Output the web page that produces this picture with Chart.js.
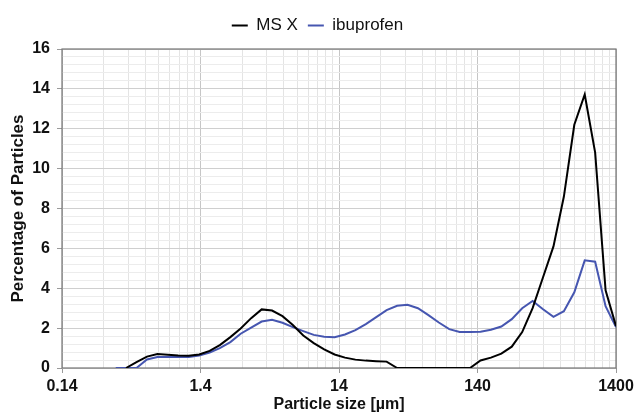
<!DOCTYPE html>
<html>
<head>
<meta charset="utf-8">
<script src="https://cdn.jsdelivr.net/npm/chart.js@4.4.0/dist/chart.umd.min.js"></script>
<style>
  html, body { margin: 0; padding: 0; background: #fff; }
</style>
</head>
<body>
<canvas id="myChart" width="635" height="415"></canvas>
<script>
// particle sizes in µm (log spaced)
const sizes = [
  0.342, 0.406, 0.483, 0.575, 0.684, 0.813, 0.967, 1.15, 1.37, 1.63,
  1.93, 2.3, 2.73, 3.25, 3.87, 4.6, 5.47, 6.5, 7.73, 9.2,
  10.94, 13.01, 15.47, 18.39, 21.875, 26.0, 30.9, 36.8, 43.75, 52.0,
  61.9, 73.6, 87.5, 104.1, 123.7, 147.2, 175, 208.1, 247.5, 294.3,
  350, 416.2, 495, 588.6, 700, 832.4, 990, 1177.2, 1400,
];

const msX = [
  null, 0, 0.3, 0.57, 0.7, 0.67, 0.63, 0.61, 0.68, 0.86,
  1.15, 1.55, 1.98, 2.5, 2.94, 2.88, 2.6, 2.16, 1.63, 1.25,
  0.93, 0.68, 0.52, 0.42, 0.37, 0.34, 0.32, 0, 0, 0,
  0, 0, 0, 0, 0, 0.38, 0.52, 0.72, 1.07, 1.8,
  3.0, 4.55, 6.1, 8.6, 12.2, 13.72, 10.8, 3.9, 2.1,
];

const ibuprofen = [
  0, 0, 0, 0.43, 0.55, 0.55, 0.55, 0.55, 0.62, 0.78,
  1.0, 1.3, 1.72, 2.03, 2.33, 2.42, 2.27, 2.05, 1.85, 1.66,
  1.57, 1.54, 1.68, 1.9, 2.2, 2.55, 2.9, 3.12, 3.17, 3.0,
  2.65, 2.28, 1.95, 1.81, 1.8, 1.82, 1.92, 2.08, 2.45, 3.0,
  3.36, 2.95, 2.57, 2.85, 3.8, 5.4, 5.33, 3.1, 2.05,
];

const xTickLabels = [0.14, 1.4, 14, 140, 1400];
const yTickLabels = [0, 2, 4, 6, 8, 10, 12, 14, 16];
const yMinorStep = 0.4;

const FONT = "'Liberation Sans', Arial, sans-serif";

function isMajor(value, majors) {
  return majors.some((m) => Math.abs(value - m) < m * 1e-6 + 1e-9);
}

function toPoints(values) {
  return values.map((v, i) => ({ x: sizes[i], y: v }));
}

function buildXTicks(axis) {
  const ticks = [];
  for (let i = 0; i < xTickLabels.length - 1; i++) {
    for (let m = 1; m < 10; m++) {
      ticks.push({ value: xTickLabels[i] * m });
    }
  }
  ticks.push({ value: xTickLabels[xTickLabels.length - 1] });
  axis.ticks = ticks;
}

function buildYTicks(axis) {
  const top = yTickLabels[yTickLabels.length - 1];
  const count = Math.round(top / yMinorStep);
  const ticks = [];
  for (let k = 0; k <= count; k++) {
    ticks.push({ value: k * yMinorStep });
  }
  axis.ticks = ticks;
}

// extra room under the legend
const legendSpacer = {
  id: "legendSpacer",
  beforeInit(chart) {
    const originalFit = chart.legend.fit;
    chart.legend.fit = function fit() {
      originalFit.bind(chart.legend)();
      this.height += 5;
    };
  },
};

// grey box round the plot area
const plotFrame = {
  id: "plotFrame",
  beforeDatasetsDraw(chart) {
    const { ctx, chartArea } = chart;
    ctx.save();
    ctx.strokeStyle = "#767676";
    ctx.lineWidth = 1.2;
    ctx.strokeRect(chartArea.left, chartArea.top, chartArea.right - chartArea.left, chartArea.bottom - chartArea.top);
    ctx.restore();
  },
};

new Chart(document.getElementById("myChart"), {
  type: "line",
  data: {
    datasets: [
      {
        label: "MS X",
        data: toPoints(msX),
        borderColor: "#000000",
        backgroundColor: "#000000",
        borderWidth: 2,
        pointRadius: 0,
        tension: 0,
      },
      {
        label: "ibuprofen",
        data: toPoints(ibuprofen),
        borderColor: "#4656b0",
        backgroundColor: "#4656b0",
        borderWidth: 2,
        pointRadius: 0,
        tension: 0,
      },
    ],
  },
  options: {
    responsive: false,
    animation: false,
    layout: { padding: { top: 7, right: 0, left: 0, bottom: 0 } },
    plugins: {
      legend: {
        position: "top",
        labels: {
          usePointStyle: true,
          pointStyle: "line",
          pointStyleWidth: 16,
          color: "#111",
          padding: 10,
          font: { family: FONT, size: 17 },
        },
      },
      tooltip: { enabled: false },
    },
    scales: {
      x: {
        type: "logarithmic",
        min: xTickLabels[0],
        max: xTickLabels[xTickLabels.length - 1],
        afterBuildTicks: buildXTicks,
        afterFit(scale) {
          scale.height = 47;
          scale.paddingRight = 19;
        },
        border: { display: false },
        grid: {
          color: (ctx) => (ctx.tick && isMajor(ctx.tick.value, xTickLabels) ? "#c6c6c6" : "#e4e4e4"),
          tickColor: (ctx) => (ctx.tick && isMajor(ctx.tick.value, xTickLabels) ? "#9a9a9a" : "rgba(0,0,0,0)"),
          tickLength: 5,
          lineWidth: 1,
        },
        ticks: {
          autoSkip: false,
          maxRotation: 0,
          minRotation: 0,
          padding: 4,
          color: "#111",
          font: { family: FONT, size: 16, weight: "bold" },
          callback: (value) => (isMajor(value, xTickLabels) ? String(value) : ""),
        },
        title: {
          display: true,
          text: "Particle size [µm]",
          color: "#111",
          padding: { top: 0, bottom: 1 },
          font: { family: FONT, size: 16, weight: "bold" },
        },
      },
      y: {
        min: yTickLabels[0],
        max: yTickLabels[yTickLabels.length - 1],
        afterBuildTicks: buildYTicks,
        afterFit(scale) {
          scale.width = 62;
        },
        border: { display: false },
        grid: {
          color: (ctx) => (ctx.tick && isMajor(ctx.tick.value, yTickLabels) ? "#cfcfcf" : "#ececec"),
          tickColor: (ctx) => (ctx.tick && isMajor(ctx.tick.value, yTickLabels) ? "#9a9a9a" : "rgba(0,0,0,0)"),
          tickLength: 5,
          lineWidth: 1,
        },
        ticks: {
          autoSkip: false,
          padding: 7,
          color: "#111",
          font: { family: FONT, size: 16, weight: "bold" },
          callback: (value) => (isMajor(value, yTickLabels) ? String(Math.round(value)) : ""),
        },
        title: {
          display: true,
          text: "Percentage of Particles",
          color: "#111",
          padding: { top: 8, bottom: 0 },
          font: { family: FONT, size: 17, weight: "bold" },
        },
      },
    },
  },
  plugins: [legendSpacer, plotFrame],
});
</script>
</body>
</html>
